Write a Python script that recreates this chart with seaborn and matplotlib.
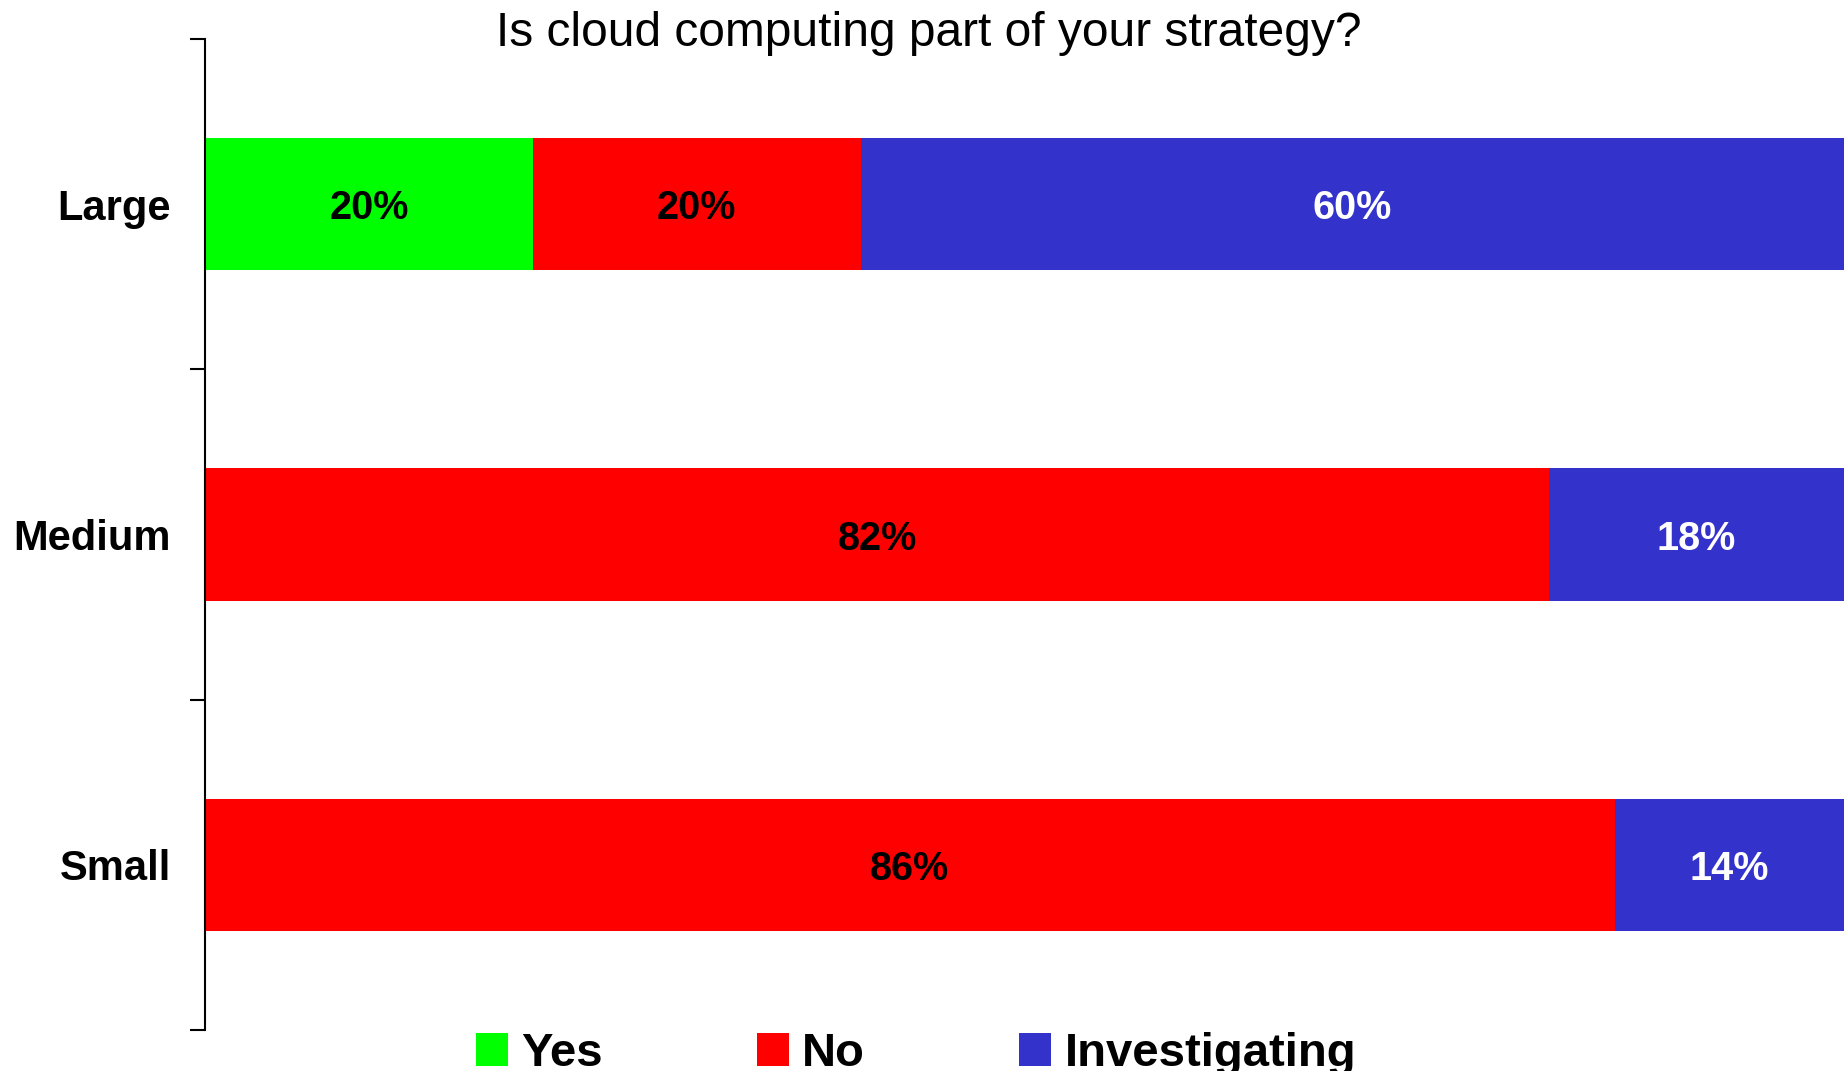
import matplotlib
matplotlib.use("Agg")
import matplotlib.pyplot as plt
from matplotlib.patches import Patch
from matplotlib.ticker import FixedLocator
import numpy as np
import pandas as pd
import seaborn as sns

# Survey answers by company size (share of respondents, %)
sizes = ["Large", "Medium", "Small"]
yes_pct = [20, 0, 0]
no_pct = [20, 82, 86]
investigating_pct = [60, 18, 14]
answers = ["Yes", "No", "Investigating"]
title = "Is cloud computing part of your strategy?"

colors = {"Yes": "#00FF00", "No": "#FF0000", "Investigating": "#3333CC"}
text_colors = {"Yes": "black", "No": "black", "Investigating": "white"}

sns.set_theme(style="white")
plt.rcParams["font.family"] = ["Liberation Sans", "DejaVu Sans"]
plt.rcParams["text.color"] = "black"

df = pd.DataFrame({
    "size": sizes,
    "Yes": np.array(yes_pct) / 100.0,
    "No": np.array(no_pct) / 100.0,
    "Investigating": np.array(investigating_pct) / 100.0,
})
# cumulative right edges of each stacked segment
df["cum_Yes"] = df["Yes"]
df["cum_No"] = df["cum_Yes"] + df["No"]
df["cum_Investigating"] = df["cum_No"] + df["Investigating"]

fig = plt.figure(figsize=(18.48, 10.71), dpi=100)
ax = fig.add_axes([205 / 1848, 1 - 1030 / 1071, (1844 - 205) / 1848, (1030 - 39) / 1071])

# Draw the stack from the widest cumulative bar to the narrowest
for ans in reversed(answers):
    sns.barplot(data=df, x=f"cum_{ans}", y="size", order=sizes, orient="h",
                color=colors[ans], saturation=1, width=0.4, linewidth=0, ax=ax)

# Segment value labels
for i, row in df.iterrows():
    left = 0.0
    for ans in answers:
        w = row[ans]
        if w > 0:
            ax.text(left + w / 2, i, f"{int(round(w * 100))}%", ha="center",
                    va="center_baseline", fontsize=28.5, fontweight="bold",
                    color=text_colors[ans])
        left += w

ax.set_xlim(0, 1)
ax.set_ylim(2.5, -0.5)
ax.set_xlabel("")
ax.set_ylabel("")
ax.set_xticks([])
for s in ["top", "right", "bottom"]:
    ax.spines[s].set_visible(False)
ax.spines["left"].set_color("black")
ax.spines["left"].set_linewidth(1.5)

ax.set_yticks(range(len(sizes)))
ax.set_yticklabels(sizes, fontsize=30, fontweight="bold", color="black")
ax.tick_params(axis="y", which="major", length=0, pad=24.5)
ax.yaxis.set_minor_locator(FixedLocator([-0.5, 0.5, 1.5, 2.5]))
ax.tick_params(axis="y", which="minor", left=True, length=10.8, width=1.5, color="black")

fig.text(929 / 1848, 1 - 34 / 1071, title, ha="center", va="center", fontsize=34.5, color="black")

handles = [Patch(facecolor=colors[a], edgecolor="none", label=a) for a in answers]
fig.legend(handles=handles, loc="center", bbox_to_anchor=(916 / 1848, 1 - 1054 / 1071),
           ncol=3, frameon=False, prop={"size": 34, "weight": "bold"}, labelcolor="black",
           handlelength=0.68, handleheight=0.68, handletextpad=0.28, columnspacing=3.26,
           borderpad=0, borderaxespad=0)

fig.savefig("out.png", dpi=100, facecolor="white")
